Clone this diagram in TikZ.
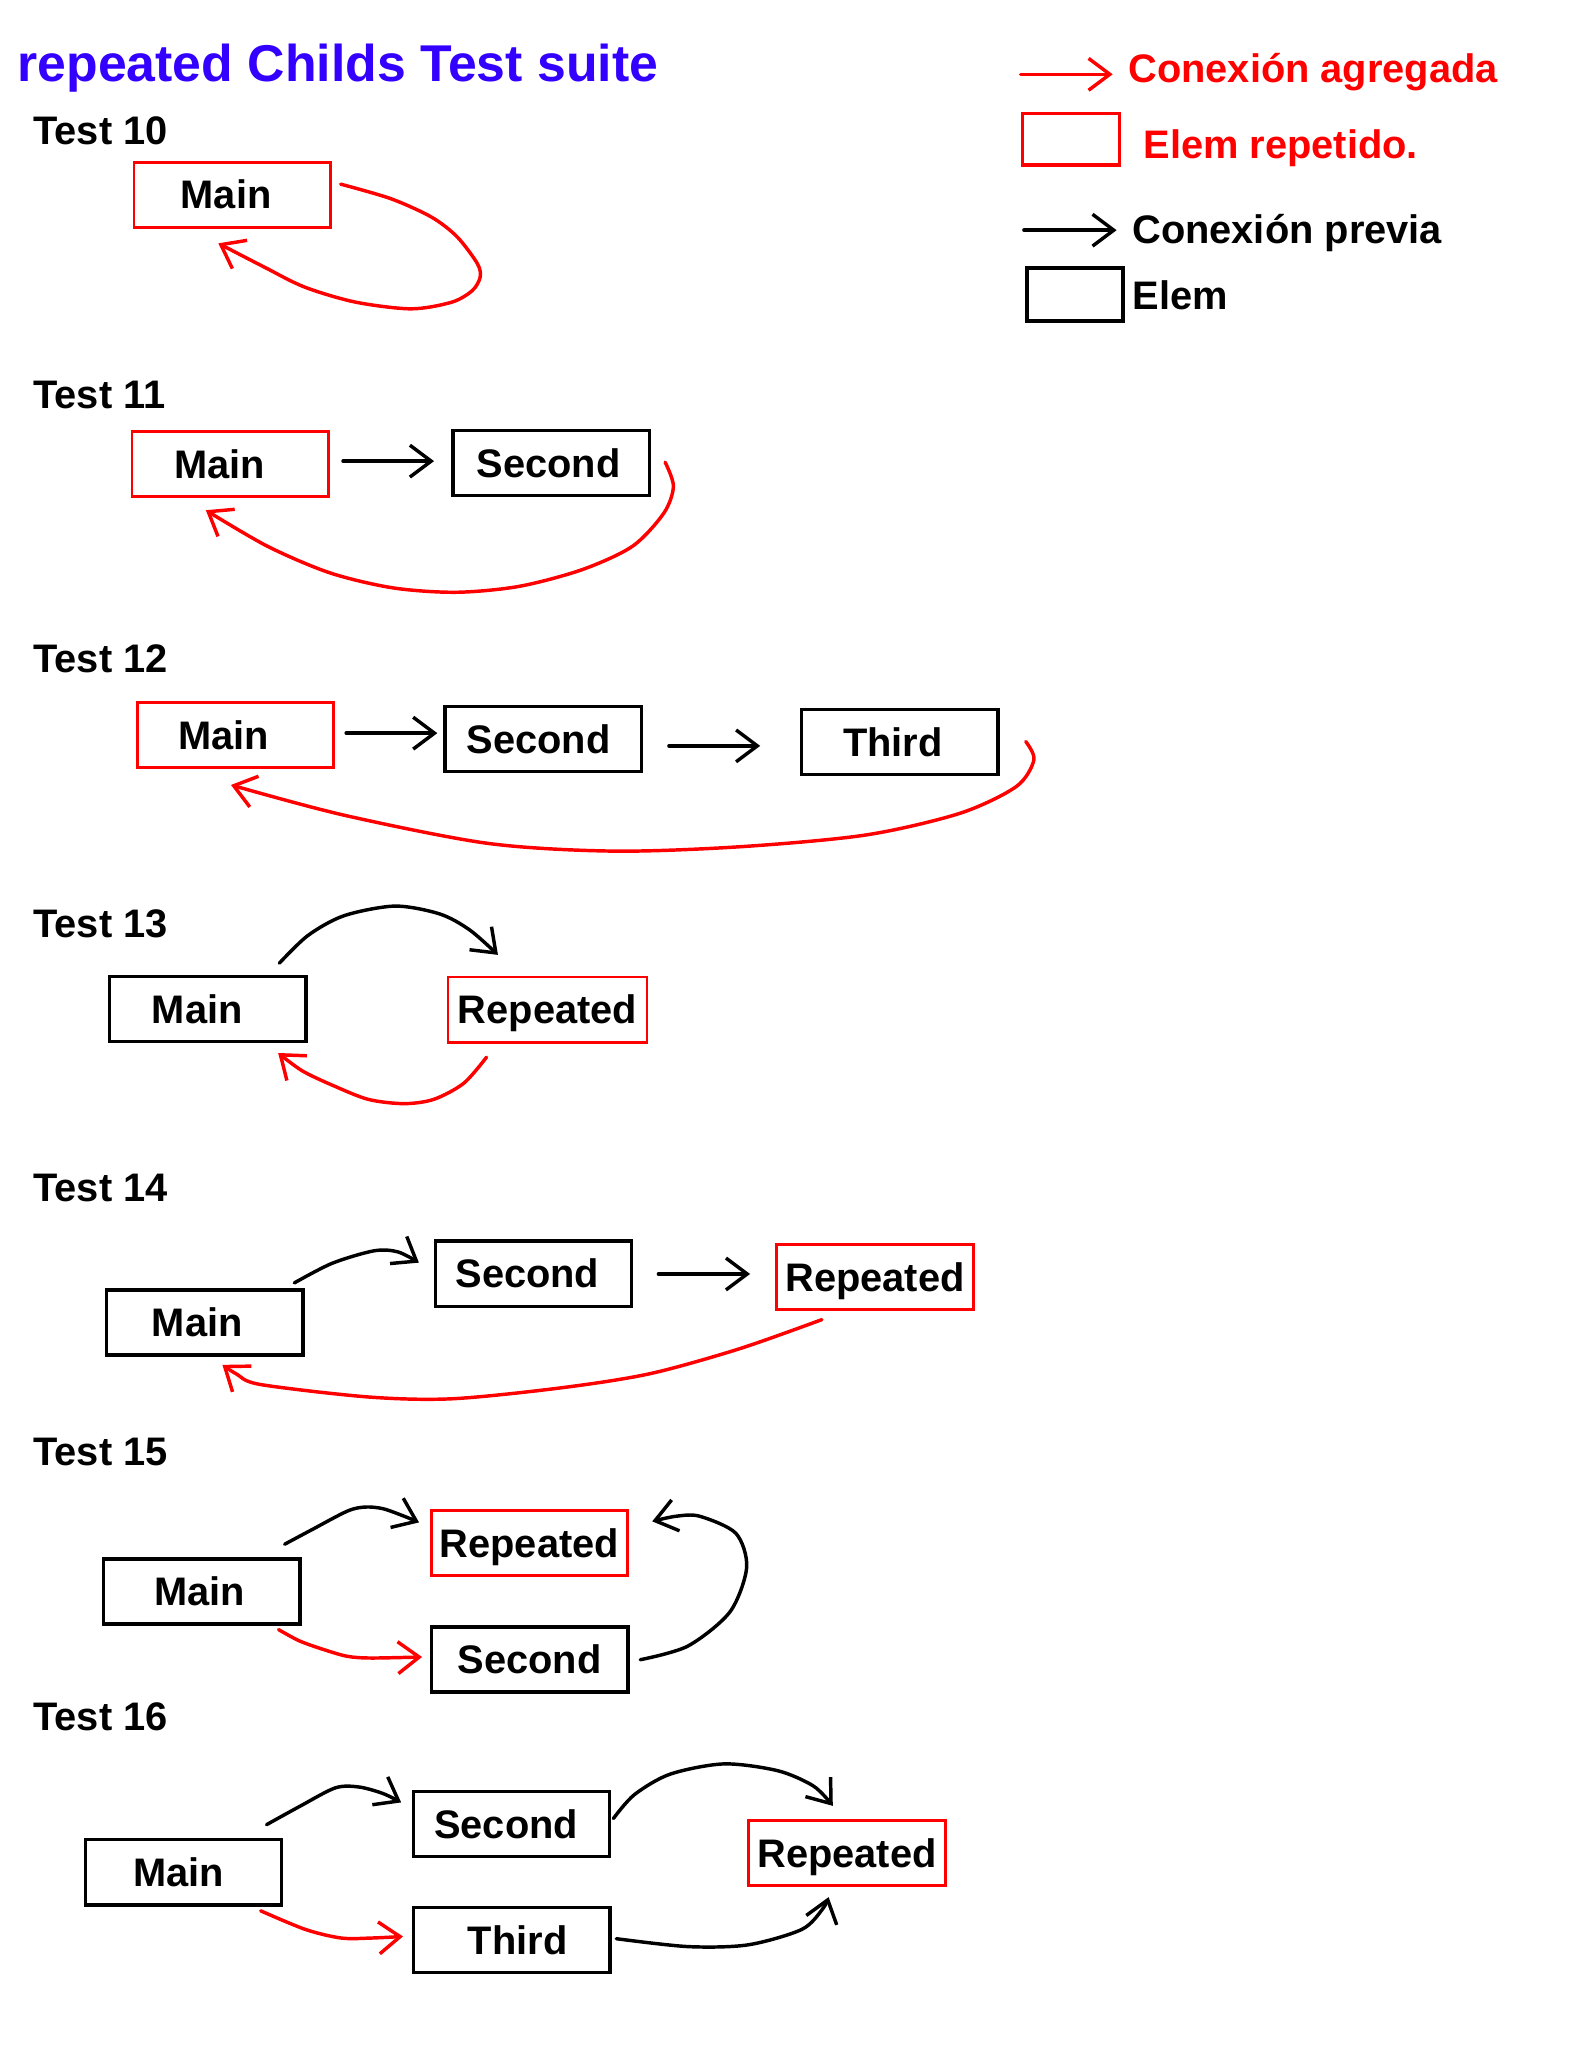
\documentclass[tikz,border=0pt]{standalone}
\usepackage{fontspec}
\setmainfont{Liberation Sans}
\usetikzlibrary{arrows.meta}
\definecolor{tblue}{RGB}{51,0,255}
\definecolor{rred}{RGB}{255,0,0}
\begin{document}
\begin{tikzpicture}[x=0.4955pt,y=-0.4955pt,
  txt/.style={font=\bfseries\fontsize{15}{18}\selectfont},
  elem/.style={txt,draw=black,line width=1.3pt,minimum width=74pt,minimum height=24.5pt,inner sep=0pt,text height=10.7pt,text depth=0pt},
  rep/.style={elem,draw=rred,line width=1.05pt},
  prev/.style={draw=black,line width=1.3pt,line cap=round,line join=round,-{Straight Barb[length=8pt,width=12pt]}},
  added/.style={prev,draw=rred},
  lbl/.style={txt,anchor=base west,inner sep=0pt}]
\useasboundingbox (0,0) rectangle (1201,1567);

% title
\node[anchor=base west,inner sep=0pt,text=tblue,font=\bfseries\fontsize{19.5}{23}\selectfont] (title) at (13,62) {repeated Childs Test suite};

% legend
\coordinate (la1) at (776,56.5);
\coordinate (la2) at (846,56.5);
\draw[added] (la1) -- (la2);
\node[lbl,text=rred] (lt1) at (857.5,63) {Conexión agregada};
\node[draw=rred,line width=1.2pt,minimum width=36.5pt,minimum height=19.5pt,inner sep=0pt] (lbox1) at (814.5,105.8) {};
\node[lbl,text=rred] (lt2) at (869,120.5) {Elem repetido.};
\coordinate (lb1) at (778.5,175);
\coordinate (lb2) at (849,175);
\draw[prev] (lb1) -- (lb2);
\node[lbl] (lt3) at (860.5,185) {Conexión previa};
\node[draw=black,line width=1.5pt,minimum width=36.5pt,minimum height=20pt,inner sep=0pt] (lbox2) at (817.3,224) {};
\node[lbl] (lt4) at (861,235) {Elem};

% Test 10
\node[lbl] (l10) at (25,109.5) {Test 10};
\node[rep] (m10) at (176.5,148) {Main\hspace*{4.5pt}};
\coordinate (c10a) at (259,140);
\coordinate (c10b) at (166,185);
\draw[added] plot[smooth] coordinates {(c10a) (297,151) (328,165) (347.5,180) (363,200.5) (365,211) (359,221) (343.6,229.7) (312.7,234.8) (270.3,229.7) (231.7,218.3) (200.8,203) (c10b)};

% Test 11
\node[lbl] (l11) at (25,310.5) {Test 11};
\node[rep] (m11) at (175,353) {Main\hspace*{8pt}};
\node[elem] (s11) at (419,352) {Second\hspace*{2pt}};
\coordinate (c11a) at (260.8,350.6);
\coordinate (c11b) at (330,350.6);
\draw[prev] (c11a) -- (c11b);
\coordinate (c11c) at (505.7,351.4);
\coordinate (c11d) at (156.5,387.9);
\draw[added] plot[smooth] coordinates {(c11c) (512,369.6) (504.8,390) (480.9,415.3) (442.6,433.1) (394.7,445.8) (346.9,450.3) (299,447) (251,435.6) (203.3,415.3) (c11d)};

% Test 12
\node[lbl] (l12) at (25,511.5) {Test 12};
\node[rep] (m12) at (179,559) {Main\hspace*{9pt}};
\node[elem] (s12) at (413,562) {Second\hspace*{3.5pt}};
\node[elem] (t12) at (684,564) {Third\hspace*{5pt}};
\coordinate (c12a) at (263.2,557.4);
\coordinate (c12b) at (332.5,557.4);
\draw[prev] (c12a) -- (c12b);
\coordinate (c12c) at (508.6,567.1);
\coordinate (c12d) at (578,567.1);
\draw[prev] (c12c) -- (c12d);
\coordinate (c12e) at (779.9,563.8);
\coordinate (c12f) at (175.6,596.8);
\draw[added] plot[smooth] coordinates {(c12e) (786.1,577.7) (772.7,598) (729.7,618.4) (657.9,634.9) (562.2,643.8) (466.5,647.1) (370.8,641.2) (260.8,619.6) (c12f)};

% Test 13
\node[lbl] (l13) at (25,712.5) {Test 13};
\node[elem] (m13) at (158,767) {Main\hspace*{8pt}};
\node[rep,minimum width=75pt] (r13) at (416.3,767.6) {Repeated};
\coordinate (c13a) at (212.4,732.3);
\coordinate (c13b) at (378.6,726);
\draw[prev] plot[smooth] coordinates {(c13a) (234.2,711.2) (261.6,696.2) (300.3,688.9) (334.4,694.9) (357.2,707.1) (c13b)};
\coordinate (c13c) at (369.9,803.8);
\coordinate (c13d) at (211.5,800.6);
\draw[added] plot[smooth] coordinates {(c13c) (352.6,823.6) (329.9,835.8) (307.1,839.1) (279.8,835.8) (252.5,825) (229.7,814.1) (c13d)};

% Test 14
\node[lbl] (l14) at (25,913.5) {Test 14};
\node[elem] (m14) at (155.7,1005.5) {Main\hspace*{5.7pt}};
\node[elem] (s14) at (405.6,968.4) {Second\hspace*{4.6pt}};
\node[rep] (r14) at (665.2,970.9) {Repeated};
\coordinate (c14a) at (223.8,975.4);
\coordinate (c14b) at (318.5,960);
\draw[prev] plot[smooth] coordinates {(c14a) (252.5,960.5) (284.3,951) (302.5,951.8) (c14b)};
\coordinate (c14c) at (500.6,968.6);
\coordinate (c14d) at (570.3,968.6);
\draw[prev] (c14c) -- (c14d);
\coordinate (c14e) at (624.9,1003.3);
\coordinate (c14f) at (169.1,1037.7);
\draw[added] plot[smooth] coordinates {(c14e) (562.1,1025.5) (493.8,1044.5) (425.5,1055.3) (343.5,1063.5) (279.8,1062.1) (197.8,1052.6) (179.6,1044.5) (c14f)};

% Test 15
\node[lbl] (l15) at (25,1114.5) {Test 15};
\node[elem] (m15) at (153.4,1210) {Main\hspace*{1.4pt}};
\node[rep] (r15) at (402.5,1173.2) {Repeated};
\node[elem] (s15) at (402.7,1261.6) {Second};
\coordinate (c15a) at (216.4,1174.1);
\coordinate (c15b) at (318.6,1157.5);
\draw[prev] plot[smooth] coordinates {(c15a) (236.8,1163.2) (264.1,1148.9) (277.7,1145.8) (291.3,1147.1) (307.3,1152.8) (c15b)};
\coordinate (c15c) at (211.8,1239);
\coordinate (c15d) at (320.9,1259.8);
\draw[added] plot[smooth] coordinates {(c15c) (227.7,1247.6) (245.9,1254.1) (264.1,1259.3) (282.3,1260.6) (c15d)};
\coordinate (c15e) at (486.8,1261.9);
\coordinate (c15f) at (495.9,1156.7);
\draw[prev] plot[smooth] coordinates {(c15e) (523,1251.5) (555,1225.5) (567.7,1191.7) (559.5,1165.8) (532,1152.8) (514,1152.8) (c15f)};

% Test 16
\node[lbl] (l16) at (25,1315.5) {Test 16};
\node[elem] (m16) at (139.5,1423.5) {Main\hspace*{3.5pt}};
\node[elem] (s16) at (388.9,1386.7) {Second\hspace*{4pt}};
\node[elem] (t16) at (389.1,1475.1) {\hspace*{4.4pt}Third};
\node[rep] (r16) at (643.9,1408.7) {Repeated};
\coordinate (c16a) at (202.7,1387.3);
\coordinate (c16b) at (305,1370.4);
\draw[prev] plot[smooth] coordinates {(c16a) (227.7,1373.5) (255,1359.3) (273.2,1358.7) (291.4,1363.7) (c16b)};
\coordinate (c16c) at (198.2,1452.8);
\coordinate (c16d) at (306.4,1472.3);
\draw[added] plot[smooth] coordinates {(c16c) (232.3,1467) (259.5,1473.5) (282.3,1473.5) (c16d)};
\coordinate (c16e) at (466.4,1382.6);
\coordinate (c16f) at (633.2,1373);
\draw[prev] plot[smooth] coordinates {(c16e) (482.3,1364.5) (509.5,1348.9) (550.4,1341.1) (591.4,1346.3) (618.6,1358) (c16f)};
\coordinate (c16g) at (468.6,1474);
\coordinate (c16h) at (630,1442.4);
\draw[prev] plot[smooth] coordinates {(c16g) (523,1480) (568.6,1478.7) (609.5,1467) (625.4,1451.5) (c16h)};
\end{tikzpicture}
\end{document}
